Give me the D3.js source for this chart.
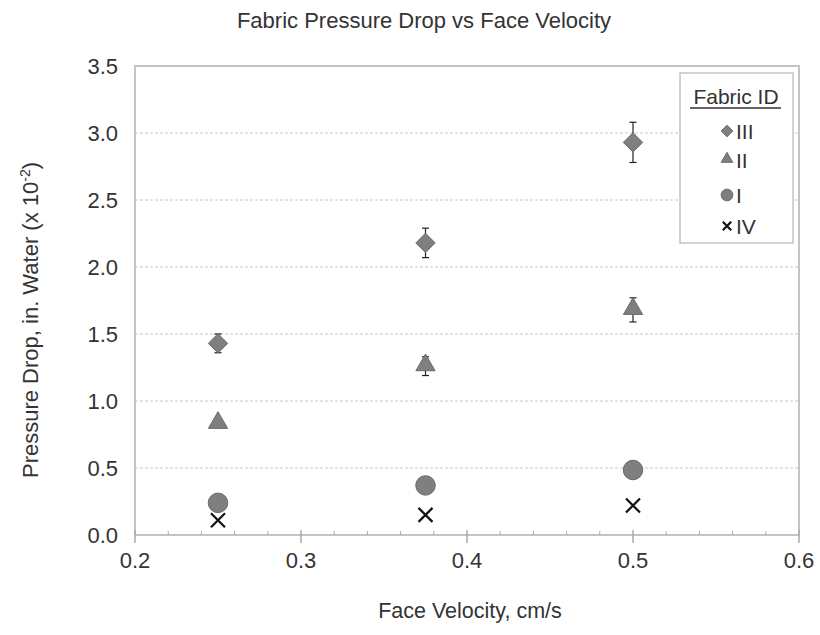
<!DOCTYPE html>
<html>
<head>
<meta charset="utf-8">
<script src="https://cdn.jsdelivr.net/npm/d3@7"></script>
<style>
  body { margin: 0; background: #fff; }
  text { font-family: "Liberation Sans", Arial, sans-serif; fill: #333; }
</style>
</head>
<body>
<div id="chart"></div>
<script>
// ---- data ----
var velocities = [0.25, 0.375, 0.5];
var fabricIds = ["III", "II", "I", "IV"];
var dropIII = [1.43, 2.18, 2.93];
var errIII  = [0.07, 0.11, 0.15];
var dropII  = [0.83, 1.26, 1.68];
var errII   = [0.03, 0.07, 0.09];
var dropI   = [0.24, 0.37, 0.485];
var dropIV  = [0.11, 0.15, 0.22];
var xTicks = [0.2, 0.3, 0.4, 0.5, 0.6];
var yTicks = [0, 0.5, 1.0, 1.5, 2.0, 2.5, 3.0, 3.5];

var series = [
  { id: "III", shape: "diamond",  vals: dropIII, errs: errIII },
  { id: "II",  shape: "triangle", vals: dropII,  errs: errII },
  { id: "I",   shape: "circle",   vals: dropI,   errs: null },
  { id: "IV",  shape: "cross",    vals: dropIV,  errs: null }
];

var W = 820, H = 635;
var m = { left: 135, right: 21, top: 66, bottom: 100 };

var svg = d3.select("#chart").append("svg").attr("width", W).attr("height", H);

var x = d3.scaleLinear().domain([0.2, 0.6]).range([m.left, W - m.right]);
var y = d3.scaleLinear().domain([0, 3.5]).range([H - m.bottom, m.top]);

// gridlines
svg.append("g").selectAll("line").data(yTicks.filter(function(d) { return d > 0 && d < 3.5; }))
  .enter().append("line")
  .attr("x1", m.left).attr("x2", W - m.right)
  .attr("y1", function(d) { return y(d); }).attr("y2", function(d) { return y(d); })
  .attr("stroke", "#c8c8c8").attr("stroke-width", 1).attr("stroke-dasharray", "3,2");

// frame
svg.append("rect")
  .attr("x", m.left).attr("y", m.top)
  .attr("width", W - m.right - m.left).attr("height", H - m.bottom - m.top)
  .attr("fill", "none").attr("stroke", "#c4c4c4").attr("stroke-width", 2);

// x axis minor ticks (every 0.02), major ticks cross the axis
var minor = d3.range(0.22, 0.6, 0.02).filter(function(v) { return Math.abs(v * 10 - Math.round(v * 10)) > 1e-6; });
svg.append("g").selectAll("line").data(minor).enter().append("line")
  .attr("x1", function(d) { return x(d); }).attr("x2", function(d) { return x(d); })
  .attr("y1", y(0)).attr("y2", y(0) - 4)
  .attr("stroke", "#aaa").attr("stroke-width", 1);
svg.append("g").selectAll("line").data(xTicks).enter().append("line")
  .attr("x1", function(d) { return x(d); }).attr("x2", function(d) { return x(d); })
  .attr("y1", y(0) - 5).attr("y2", y(0) + 8)
  .attr("stroke", "#aaa").attr("stroke-width", 1.5);

// tick labels
svg.append("g").selectAll("text").data(xTicks).enter().append("text")
  .attr("x", function(d) { return x(d); }).attr("y", y(0) + 33)
  .attr("text-anchor", "middle").attr("font-size", 22)
  .text(function(d) { return d3.format(".1f")(d); });
svg.append("g").selectAll("text").data(yTicks).enter().append("text")
  .attr("x", 118).attr("y", function(d) { return y(d) + 8; })
  .attr("text-anchor", "end").attr("font-size", 22)
  .text(function(d) { return d3.format(".1f")(d); });

// titles
svg.append("text").attr("x", 424).attr("y", 28).attr("text-anchor", "middle")
  .attr("font-size", 22).text("Fabric Pressure Drop vs Face Velocity");
svg.append("text").attr("x", 470).attr("y", 618).attr("text-anchor", "middle")
  .attr("font-size", 21.5).text("Face Velocity, cm/s");
var yt = svg.append("text").attr("transform", "translate(38,320) rotate(-90)")
  .attr("text-anchor", "middle").attr("font-size", 22);
yt.append("tspan").text("Pressure Drop, in. Water (x 10");
yt.append("tspan").attr("dy", -8).attr("font-size", 14).text("-2");
yt.append("tspan").attr("dy", 8).text(")");

// markers
var symSize = { diamond: 240, triangle: 160, circle: 300 };
var symType = { diamond: d3.symbolDiamond2, triangle: d3.symbolTriangle, circle: d3.symbolCircle };
function drawMarker(g, shape, scale) {
  scale = scale || 1;
  if (shape === "cross") {
    var s = 7 * scale;
    g.append("path").attr("d", "M" + (-s) + "," + (-s) + "L" + s + "," + s + "M" + s + "," + (-s) + "L" + (-s) + "," + s)
      .attr("stroke", "#111").attr("stroke-width", 2.2).attr("fill", "none");
  } else {
    var sym = d3.symbol().type(symType[shape]).size(symSize[shape] * scale * scale);
    g.append("path").attr("d", sym())
      .attr("fill", "#7f7f7f").attr("stroke", "#6a6a6a").attr("stroke-width", 1)
      .attr("transform", shape === "triangle" ? "translate(0,-1)" : null);
  }
}

series.forEach(function(s) {
  var g = svg.append("g");
  velocities.forEach(function(v, i) {
    var val = s.vals[i];
    if (s.errs) {
      var e = s.errs[i];
      var eg = g.append("g");
      eg.append("line").attr("x1", x(v)).attr("x2", x(v))
        .attr("y1", y(val - e)).attr("y2", y(val + e)).attr("stroke", "#222").attr("stroke-width", 1.2);
      [val - e, val + e].forEach(function(t) {
        eg.append("line").attr("x1", x(v) - 3.5).attr("x2", x(v) + 3.5)
          .attr("y1", y(t)).attr("y2", y(t)).attr("stroke", "#222").attr("stroke-width", 1.2);
      });
    }
    var mg = g.append("g").attr("transform", "translate(" + x(v) + "," + y(val) + ")");
    drawMarker(mg, s.shape);
  });
});

// legend
var lg = svg.append("g");
lg.append("rect").attr("x", 680).attr("y", 73).attr("width", 113).attr("height", 170)
  .attr("fill", "#fff").attr("stroke", "#c4c4c4").attr("stroke-width", 1.5);
lg.append("text").attr("x", 736).attr("y", 104).attr("text-anchor", "middle")
  .attr("font-size", 21).text("Fabric ID");
lg.append("line").attr("x1", 690).attr("x2", 781).attr("y1", 108).attr("y2", 108)
  .attr("stroke", "#333").attr("stroke-width", 1.5);
var legendY = [131, 160, 195, 226];
fabricIds.forEach(function(id, i) {
  var s = series.filter(function(d) { return d.id === id; })[0];
  var mg = lg.append("g").attr("transform", "translate(" + 727 + "," + legendY[i] + ")");
  drawMarker(mg, s.shape, 0.6);
  lg.append("text").attr("x", 736).attr("y", legendY[i] + 8).attr("font-size", 21).text(id);
});
</script>
</body>
</html>
